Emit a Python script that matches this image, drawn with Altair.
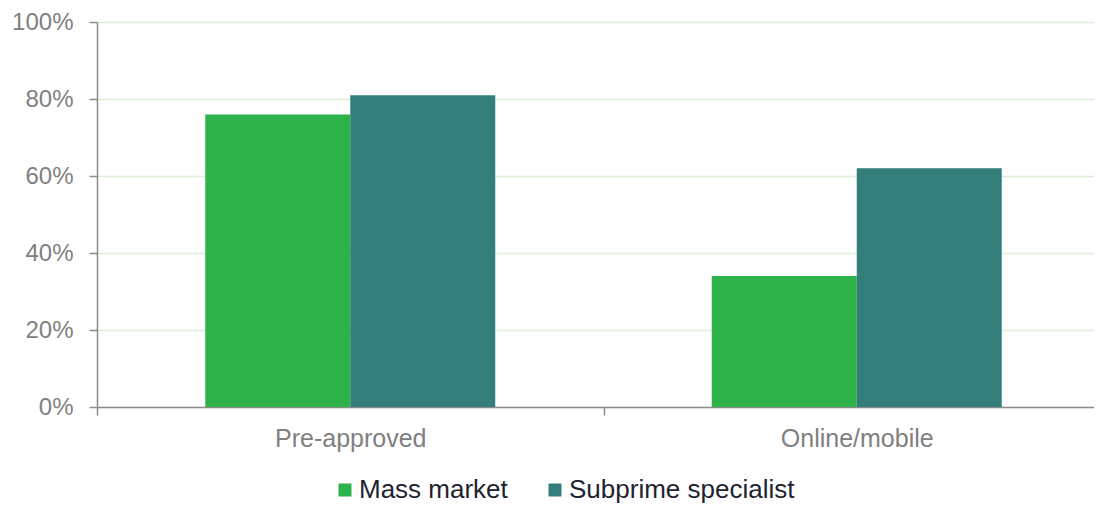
import altair as alt
import pandas as pd

categories = ["Pre-approved", "Online/mobile"]
series_names = ["Mass market", "Subprime specialist"]
mass_market = [0.76, 0.34]
subprime_specialist = [0.81, 0.62]
y_ticks = [0, 0.2, 0.4, 0.6, 0.8, 1.0]
colors = ["#2eb34b", "#337e7b"]

rows = []
for i, c in enumerate(categories):
    rows.append({"category": c, "series": series_names[0], "value": mass_market[i]})
    rows.append({"category": c, "series": series_names[1], "value": subprime_specialist[i]})
df = pd.DataFrame(rows)

FONT = "Liberation Sans"

chart = alt.Chart(df).mark_bar().encode(
    x=alt.X(
        "category:N",
        sort=categories,
        title=None,
        scale=alt.Scale(range=[0, 1013], paddingInner=0, paddingOuter=0),
        axis=alt.Axis(
            labelAngle=0,
            tickBand="extent",
            grid=False,
            domainColor="#8c8c8c",
            domainWidth=1.5,
            tickColor="#8c8c8c",
            tickWidth=1.5,
            tickSize=8,
            labelColor="#808080",
            labelFont=FONT,
            labelFontSize=25,
            labelPadding=11,
        ),
    ),
    xOffset=alt.XOffset(
        "series:N",
        sort=series_names,
        scale=alt.Scale(paddingInner=0, paddingOuter=0.7466),
    ),
    y=alt.Y(
        "value:Q",
        title=None,
        scale=alt.Scale(domain=[0, 1], nice=False),
        axis=alt.Axis(
            values=y_ticks,
            format=".0%",
            grid=True,
            gridColor="#ddeed6",
            gridWidth=1.5,
            domainColor="#8c8c8c",
            domainWidth=1.5,
            tickColor="#8c8c8c",
            tickWidth=1.5,
            tickSize=8,
            labelColor="#808080",
            labelFont=FONT,
            labelFontSize=24,
            labelPadding=16,
        ),
    ),
    color=alt.Color(
        "series:N",
        sort=series_names,
        scale=alt.Scale(domain=series_names, range=colors),
        legend=alt.Legend(
            title=None,
            orient="none",
            legendX=235,
            legendY=455,
            direction="horizontal",
            symbolType="square",
            symbolSize=169,
            symbolStrokeWidth=0,
            symbolOpacity=1,
            labelFont=FONT,
            labelFontSize=26,
            labelColor="#1e2330",
            labelOffset=1,
            labelLimit=400,
            columnPadding=34,
            padding=0,
        ),
    ),
).properties(
    width=997,
    height=385,
    padding={"left": 89, "top": 14, "right": 0, "bottom": 98},
    autosize=alt.AutoSizeParams(type="none"),
).configure_view(stroke=None).configure(background="white")

chart.save("out.html", embed_options={"renderer": "svg", "actions": False})
